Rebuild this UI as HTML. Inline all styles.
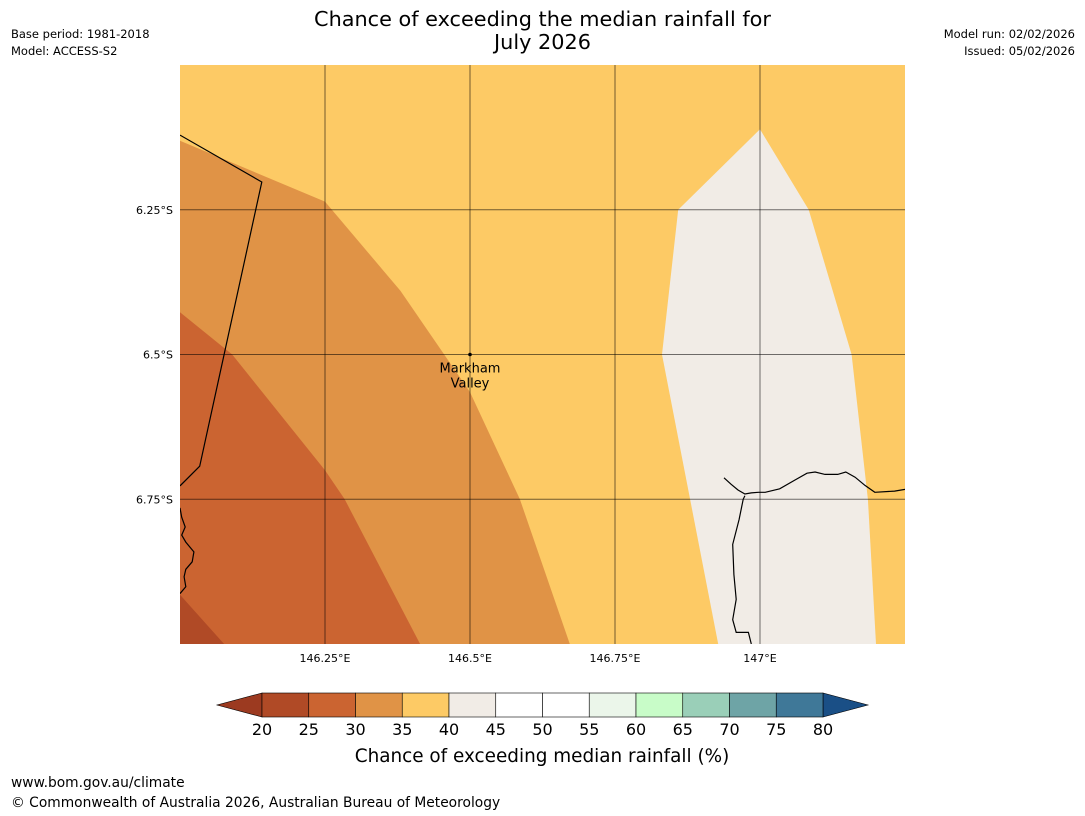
<!DOCTYPE html>
<html><head><meta charset="utf-8">
<style>
body{margin:0;background:#fff;font-family:"Liberation Sans","DejaVu Sans",sans-serif;}
#wrap{position:relative;width:1085px;height:816px;overflow:hidden;}
.t{position:absolute;white-space:nowrap;}
</style></head>
<body>
<div id="wrap">
<div class="t" style="left:0;width:1085px;top:8px;text-align:center;font-size:20.8px;line-height:23px;font-family:'DejaVu Sans',sans-serif;">Chance of exceeding the median rainfall for<br>July 2026</div>
<div class="t" style="left:11px;top:27px;font-size:11.5px;font-family:'DejaVu Sans',sans-serif;">Base period: 1981-2018</div>
<div class="t" style="left:11px;top:44px;font-size:11.5px;font-family:'DejaVu Sans',sans-serif;">Model: ACCESS-S2</div>
<div class="t" style="right:10px;top:27px;font-size:11.5px;font-family:'DejaVu Sans',sans-serif;">Model run: 02/02/2026</div>
<div class="t" style="right:10px;top:44px;font-size:11.5px;font-family:'DejaVu Sans',sans-serif;">Issued: 05/02/2026</div>
<div class="t" style="left:11px;top:775px;font-size:13.8px;font-family:'DejaVu Sans',sans-serif;">www.bom.gov.au/climate</div>
<div class="t" style="left:11px;top:795px;font-size:13.8px;font-family:'DejaVu Sans',sans-serif;">© Commonwealth of Australia 2026, Australian Bureau of Meteorology</div>
<svg id="svg" width="1085" height="816" style="position:absolute;left:0;top:0"></svg>
</div>
<script>
const lonTicks=[146.25,146.5,146.75,147];
const latTicks=[6.25,6.5,6.75];
const lonTickLabels=["146.25°E","146.5°E","146.75°E","147°E"];
const latTickLabels=["6.25°S","6.5°S","6.75°S"];
const cbLevels=[20,25,30,35,40,45,50,55,60,65,70,75,80];
const cbColors=["#b04a26","#cb6431","#e09346","#fdca65","#f1ece6","#ffffff","#ffffff","#ebf6ea","#c8fcc8","#9acfb8","#6ea4a6","#3f7898"];
const cbUnder="#9c3a20", cbOver="#1a4f86";
const region30=[[146,6.131],[146.25,6.236],[146.38,6.39],[146.5,6.565],[146.586,6.75],[146.672,7]];
const region25=[[146,6.427],[146.09,6.5],[146.25,6.7],[146.284,6.75],[146.414,7]];
const region20=[[146,6.915],[146.076,7]];
const region40=[[146.859,6.25],[147,6.111],[147.084,6.25],[147.158,6.5],[147.186,6.75],[147.2,7],[146.928,7],[146.831,6.5]];
const border1=[[146,6.121],[146.141,6.202],[146.034,6.693],[146,6.727]];
const coastL=[[146,6.765],[146.003,6.781],[146.009,6.798],[146.003,6.812],[146.01,6.824],[146.024,6.841],[146.021,6.858],[146.01,6.871],[146.007,6.884],[146.01,6.901],[146,6.913]];
const coastR1=[[146.938,6.713],[146.95,6.724],[146.962,6.734],[146.974,6.741],[146.985,6.739],[146.997,6.738],[147.009,6.738],[147.034,6.732],[147.06,6.717],[147.081,6.705],[147.095,6.703],[147.112,6.707],[147.134,6.707],[147.148,6.703],[147.164,6.712],[147.181,6.726],[147.198,6.738],[147.232,6.736],[147.25,6.733]];
const coastR2=[[146.974,6.744],[146.971,6.75],[146.964,6.785],[146.953,6.828],[146.955,6.88],[146.959,6.923],[146.953,6.958],[146.959,6.98],[146.98,6.98],[146.985,7]];
const towns=[{name:["Markham","Valley"],lon:146.5,lat:6.5}];

const X0=180,X1=905,Y0=65,Y1=644;
const LON0=146,LON1=147.25,LAT0=6.0,LAT1=7.0;
const px=l=>X0+(l-LON0)/(LON1-LON0)*(X1-X0);
const py=l=>Y0+(l-LAT0)/(LAT1-LAT0)*(Y1-Y0);
const svg=document.getElementById('svg');
const NS='http://www.w3.org/2000/svg';
function mk(t,a,p){const e=document.createElementNS(NS,t);for(const k in a)e.setAttribute(k,a[k]);(p||svg).appendChild(e);return e;}
const pts=a=>a.map(p=>px(p[0]).toFixed(1)+','+py(p[1]).toFixed(1)).join(' ');
const clip=mk('clipPath',{id:'mc'});mk('rect',{x:X0,y:Y0,width:X1-X0,height:Y1-Y0},clip);
const g=mk('g',{'clip-path':'url(#mc)'});
let e=mk('rect',{x:X0,y:Y0,width:X1-X0,height:Y1-Y0,fill:cbColors[3]},g);


function region(list,color,name){
  const p=mk('polygon',{points:pts(list)+' '+px(LON0)+','+py(LAT1),fill:color},g);
  
  
}
region(region30,cbColors[2],'region-30-35');
region(region25,cbColors[1],'region-25-30');
region(region20,cbColors[0],'region-20-25');
e=mk('polygon',{points:pts(region40),fill:cbColors[4]},g);


[[border1,'border-line'],[coastL,'coastline-west'],[coastR1,'coastline-north'],[coastR2,'coastline-east']].forEach(([a,n])=>{
  const l=mk('polyline',{points:pts(a),fill:'none',stroke:'#000','stroke-width':1.2},g);
  
  
});
lonTicks.forEach((v,i)=>{
  const l=mk('line',{x1:px(v),x2:px(v),y1:Y0,y2:Y1,stroke:'#000','stroke-opacity':0.55,'stroke-width':1});
  
  
  const t=mk('text',{x:px(v),y:Y1+18,'font-size':11,'text-anchor':'middle','font-family':'DejaVu Sans,sans-serif'});t.textContent=lonTickLabels[i];
  
  
});
latTicks.forEach((v,i)=>{
  const l=mk('line',{x1:X0,x2:X1,y1:py(v),y2:py(v),stroke:'#000','stroke-opacity':0.55,'stroke-width':1});
  
  
  const t=mk('text',{x:X0-7,y:py(v)+4,'font-size':11,'text-anchor':'end','font-family':'DejaVu Sans,sans-serif'});t.textContent=latTickLabels[i];
  
  
});
towns.forEach(tw=>{
  const c=mk('circle',{cx:px(tw.lon),cy:py(tw.lat),r:1.8,fill:'#000'});
  
  
  tw.name.forEach((s,i)=>{
    const t=mk('text',{x:px(tw.lon),y:py(tw.lat)+18+i*15,'font-size':13,'text-anchor':'middle','font-family':'DejaVu Sans,sans-serif'});t.textContent=s;
    
    
  });
});
const CB0=262,CB1=823,CBY=693,CBH=24;
const cx=v=>CB0+(v-cbLevels[0])/(cbLevels[cbLevels.length-1]-cbLevels[0])*(CB1-CB0);
e=mk('polygon',{points:`${CB0},${CBY} ${CB0},${CBY+CBH} 217,${CBY+CBH/2}`,fill:cbUnder,stroke:'#000','stroke-width':0.6});


e=mk('polygon',{points:`${CB1},${CBY} ${CB1},${CBY+CBH} 868,${CBY+CBH/2}`,fill:cbOver,stroke:'#000','stroke-width':0.6});


cbColors.forEach((c,i)=>{
  const r=mk('rect',{x:cx(cbLevels[i]),y:CBY,width:cx(cbLevels[i+1])-cx(cbLevels[i]),height:CBH,fill:c,stroke:'#000','stroke-width':0.6});
  
  
});
cbLevels.forEach(v=>{
  const t=mk('text',{x:cx(v),y:735,'font-size':16,'text-anchor':'middle','font-family':'DejaVu Sans,sans-serif'});t.textContent=v;
  
  
});
e=mk('text',{x:542,y:762,'font-size':18.4,'text-anchor':'middle','font-family':'DejaVu Sans,sans-serif'});e.textContent='Chance of exceeding median rainfall (%)';


</script>
</body></html>
